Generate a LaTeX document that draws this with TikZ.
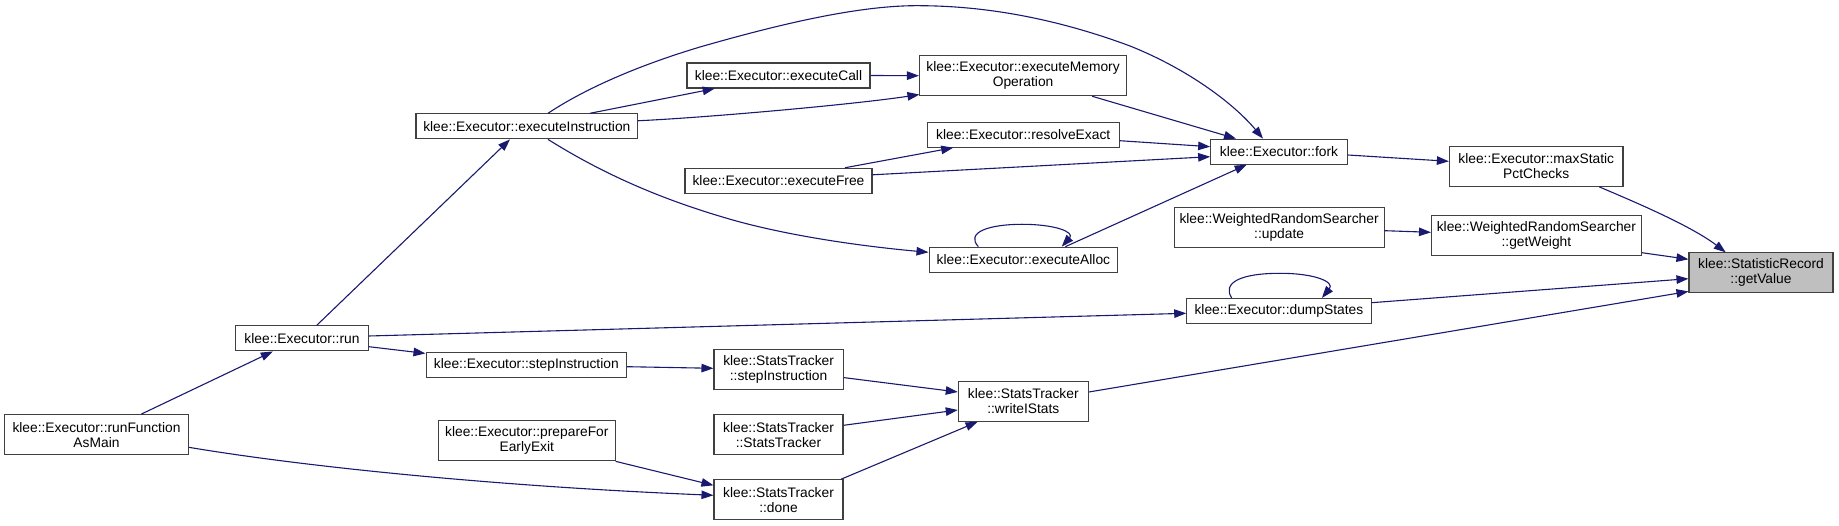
\documentclass[tikz,border=0pt]{standalone}
\usepackage{fontspec}
\setmainfont{Liberation Sans}
\usetikzlibrary{arrows.meta}
\definecolor{edgeblue}{HTML}{191970}
\definecolor{boxline}{HTML}{404040}
\definecolor{hl}{HTML}{BFBFBF}
\begin{document}
\begin{tikzpicture}[x=1pt,y=-1pt,
  fn/.style={draw=boxline, line width=1.1pt, fill=white, inner sep=0pt, align=center, font=\fontsize{13.8}{15}\selectfont},
  one/.style={fn, minimum height=25pt},
  two/.style={fn, minimum height=40pt},
  e/.style={draw=edgeblue, line width=1.1pt, -{Triangle[length=12pt,width=8.5pt]}},
]
\useasboundingbox (0,0) rectangle (1839,526);
\node[one, minimum width=221.6pt] (eI) at (526.8,126.35) {klee::Executor::executeInstruction};
\node[one, minimum width=183pt] (eC) at (778.5,75.5) {klee::Executor::executeCall};
\node[two, minimum width=207.2pt] (eMO) at (1023.1,75.7) {klee::Executor::executeMemory\\Operation};
\node[one, minimum width=191.7pt] (rE) at (1023.2,134.7) {klee::Executor::resolveExact};
\node[one, minimum width=187pt] (eF) at (778.5,180.8) {klee::Executor::executeFree};
\node[one, minimum width=188.7pt] (eA) at (1023.4,259.7) {klee::Executor::executeAlloc};
\node[one, minimum width=136.6pt] (fork) at (1279,151.7) {klee::Executor::fork};
\node[two, minimum width=173.6pt] (mSP) at (1536.2,166.3) {klee::Executor::maxStatic\\PctChecks};
\node[two, minimum width=210pt] (wUp) at (1279.1,227.7) {klee::WeightedRandomSearcher\\::update};
\node[two, minimum width=209.8pt] (gW) at (1536.4,235.7) {klee::WeightedRandomSearcher\\::getWeight};
\node[two, minimum width=144pt, fill=hl] (gV) at (1761,272.9) {klee::StatisticRecord\\::getValue};
\node[one, minimum width=184.3pt] (dS) at (1278.9,311) {klee::Executor::dumpStates};
\node[one, minimum width=132.6pt] (run) at (302,338.4) {klee::Executor::run};
\node[one, minimum width=200.5pt] (sI) at (526.3,365.4) {klee::Executor::stepInstruction};
\node[two, minimum width=129.2pt] (tSI) at (778.6,369.3) {klee::StatsTracker\\::stepInstruction};
\node[two, minimum width=130pt] (wIS) at (1023.3,401.3) {klee::StatsTracker\\::writeIStats};
\node[two, minimum width=129pt] (tST) at (778.5,434.7) {klee::StatsTracker\\::StatsTracker};
\node[two, minimum width=129pt] (done) at (778.5,499.7) {klee::StatsTracker\\::done};
\node[two, minimum width=183.5pt] (rFM) at (96.5,434.7) {klee::Executor::runFunction\\AsMain};
\node[two, minimum width=176.5pt] (pEE) at (526.8,440.8) {klee::Executor::prepareFor\\EarlyExit};

\draw[e] ([xshift=63.2pt]eI.north) -- ([xshift=-63.8pt]eC.south);
\draw[e] ([yshift=5.6pt]eI.east) .. controls (700,118) and (850,105) .. ([xshift=0.5pt,yshift=1.7pt]eMO.south west);
\draw[e] ([xshift=21.2pt]eI.north) .. controls (580,92) and (630,68) .. (700,47) .. controls (780,24) and (860,5) .. (920,5.7) .. controls (990,6) and (1060,20) .. (1130,46) .. controls (1190,70) and (1235,105) .. ([xshift=-16pt]fork.north);
\draw[e] ([xshift=21.2pt]eI.south) .. controls (600,172) and (660,200) .. (740,222) .. controls (800,238) and (870,247) .. ([yshift=7.4pt]eA.west);
\draw[e] (eC.east) -- (eMO.west);
\draw[e] ([xshift=69pt]eMO.south) -- ([xshift=-43pt]fork.north);
\draw[e] ([yshift=-6pt]rE.east) -- ([yshift=5pt]fork.west);
\draw[e] ([xshift=66.5pt]eF.north) -- ([xshift=-70pt]rE.south);
\draw[e] ([yshift=6pt]eF.east) -- ([yshift=-5pt]fork.west);
\draw[e] ([yshift=-3.3pt]fork.east) -- ([yshift=5pt]mSP.west);
\draw[e] ([xshift=63pt]mSP.south) .. controls (1630,200) and (1690,225) .. ([xshift=-35.3pt]gV.north);
\draw[e] ([yshift=-3pt]wUp.east) -- ([yshift=3.4pt]gW.west);
\draw[e] ([yshift=-17pt]gW.east) -- ([yshift=13.6pt]gV.west);
\draw[e] ([yshift=8.3pt]dS.east) -- ([yshift=-5.8pt]gV.west);
\draw[e] ([xshift=-47.2pt]dS.north) .. controls (1222,283) and (1240,273.3) .. (1280,273.3) .. controls (1315,273.3) and (1335,282) .. ([xshift=43pt]dS.north);
\draw[e] ([yshift=9.3pt]wIS.east) -- ([yshift=2pt]gV.south west);
\draw[e] ([xshift=14.7pt]run.north) -- ([xshift=-16.8pt]eI.south);
\draw[e] ([yshift=2.4pt]run.east) -- ([yshift=-2.3pt]dS.west);
\draw[e] ([yshift=-8.3pt]run.east) -- ([yshift=12pt]sI.west);
\draw[e] ([yshift=-1.3pt]sI.east) -- ([yshift=1pt]tSI.west);
\draw[e] ([yshift=-8.3pt]tSI.east) -- ([yshift=9.3pt]wIS.west);
\draw[e] ([yshift=9.4pt]tST.east) -- ([yshift=-8.7pt]wIS.west);
\draw[e] ([xshift=62.7pt]done.north) -- ([xshift=-45.7pt]wIS.south);
\draw[e] ([xshift=44.7pt]rFM.north) -- ([xshift=-29.2pt]run.south);
\draw[e] ([yshift=-12.6pt]rFM.east) .. controls (300,466) and (490,486) .. ([yshift=4.4pt]done.west);
\draw[e] (pEE.south east) -- ([yshift=14.4pt]done.west);
\draw[e] ([xshift=42pt]eA.north) -- ([xshift=-32.3pt]fork.south);
\draw[e] ([xshift=-45.1pt]eA.north) .. controls (965,232) and (990,224.3) .. (1022,224.3) .. controls (1055,224.3) and (1075,232) .. ([xshift=38.3pt]eA.north);
\end{tikzpicture}
\end{document}
